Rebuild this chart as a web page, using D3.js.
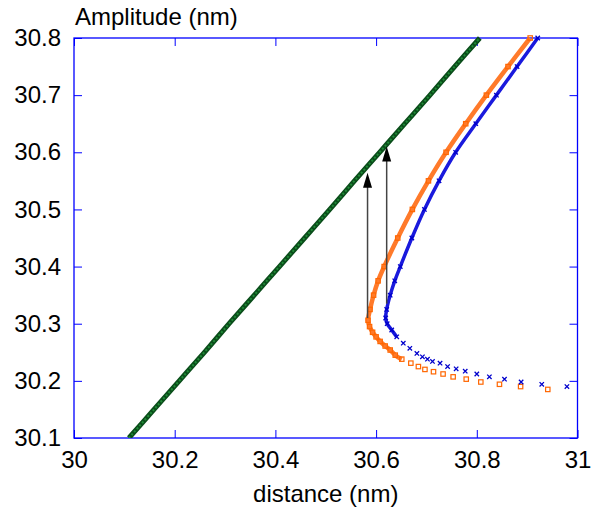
<!DOCTYPE html>
<html><head><meta charset="utf-8">
<script src="https://cdn.jsdelivr.net/npm/d3@7"></script>
<style>
html,body{margin:0;padding:0;background:#fff;}
text{font-family:"Liberation Sans",Arial,sans-serif;fill:#000;}
</style></head>
<body><svg id="c" width="592" height="512"></svg>
<script>
// ---- data ----
const xTicks = [30, 30.2, 30.4, 30.6, 30.8, 31];
const xTickLabels = ["30", "30.2", "30.4", "30.6", "30.8", "31"];
const yTicks = [30.1, 30.2, 30.3, 30.4, 30.5, 30.6, 30.7, 30.8];
const yTickLabels = ["30.1", "30.2", "30.3", "30.4", "30.5", "30.6", "30.7", "30.8"];

const greenX = [30.109,30.159,30.209,30.259,30.308,30.358,30.408,30.458,30.508,30.557,30.607,30.657,30.707,30.756,30.806];
const greenY = [30.10,30.15,30.20,30.25,30.30,30.35,30.40,30.45,30.50,30.55,30.60,30.65,30.70,30.75,30.80];

const orangeX = [30.906,30.862,30.819,30.778,30.739,30.704,30.672,30.643,30.616,30.604,30.595,30.588,30.584,
  30.587,30.593,30.600,30.608,30.618,30.628,30.638,30.651,30.669,30.684,30.697,30.714,30.733,30.753,30.779,30.808,30.845,30.887,30.941];
const orangeY = [30.800,30.750,30.700,30.650,30.600,30.550,30.500,30.450,30.400,30.375,30.350,30.325,30.306,
  30.295,30.285,30.277,30.269,30.261,30.254,30.245,30.238,30.231,30.225,30.220,30.216,30.212,30.207,30.203,30.198,30.194,30.190,30.185];

const blueX = [30.921,30.880,30.839,30.798,30.758,30.725,30.696,30.671,30.648,30.637,30.628,30.621,30.619,
  30.622,30.631,30.641,30.654,30.667,30.681,30.692,30.702,30.712,30.727,30.742,30.759,30.777,30.800,30.825,30.855,30.888,30.929,30.979];
const blueY = [30.800,30.750,30.700,30.650,30.600,30.550,30.500,30.450,30.400,30.375,30.350,30.325,30.310,
  30.300,30.289,30.277,30.266,30.257,30.248,30.242,30.238,30.234,30.231,30.225,30.221,30.217,30.212,30.207,30.203,30.198,30.194,30.190];

const arrowX = [30.583, 30.621];
const arrowYStart = [30.310, 30.335];
const arrowYEnd = [30.564, 30.610];

// ---- layout ----
const svg = d3.select("#c");
const L = 74, R = 577.5, T = 38, B = 438;
const x = d3.scaleLinear().domain([30, 31]).range([L, R]);
const y = d3.scaleLinear().domain([30.1, 30.8]).range([B, T]);
const axisColor = "#0000ff";
const fontSize = 24;

svg.append("defs").append("clipPath").attr("id","clip")
  .append("rect").attr("x",L).attr("y",T-3).attr("width",R-L).attr("height",B-T+3);

// axes
function styleAxis(g){
  g.select(".domain").remove();
  g.selectAll(".tick line").attr("stroke", axisColor).attr("stroke-width",1);
  g.selectAll(".tick text").style("font-size", fontSize+"px").attr("fill","#000");
}
svg.append("g").attr("transform",`translate(0,${B})`)
  .call(d3.axisBottom(x).tickValues(xTicks).tickFormat((d,i)=>xTickLabels[i]).tickSizeInner(-8).tickSizeOuter(0).tickPadding(13))
  .call(styleAxis);
svg.append("g").attr("transform",`translate(0,${T})`)
  .call(d3.axisTop(x).tickValues(xTicks).tickFormat("").tickSizeInner(-8).tickSizeOuter(0))
  .call(styleAxis);
svg.append("g").attr("transform",`translate(${L},0)`)
  .call(d3.axisLeft(y).tickValues(yTicks).tickFormat((d,i)=>yTickLabels[i]).tickSizeInner(-8).tickSizeOuter(0).tickPadding(13))
  .call(styleAxis);
svg.append("g").attr("transform",`translate(${R},0)`)
  .call(d3.axisRight(y).tickValues(yTicks).tickFormat("").tickSizeInner(-8).tickSizeOuter(0))
  .call(styleAxis);

svg.append("rect").attr("x",L).attr("y",T).attr("width",R-L).attr("height",B-T)
  .attr("fill","none").attr("stroke",axisColor).attr("stroke-width",1.3);

// labels
svg.append("text").attr("x",75).attr("y",25).style("font-size",fontSize+"px").text("Amplitude (nm)");
svg.append("text").attr("x",(L+R)/2).attr("y",502).attr("text-anchor","middle").style("font-size",fontSize+"px").text("distance (nm)");

const plot = svg.append("g").attr("clip-path","url(#clip)");
const line = d3.line().x(d=>x(d[0])).y(d=>y(d[1])).curve(d3.curveCatmullRom);

// green
const greenPts = greenX.map((v,i)=>[v, greenY[i]]);
plot.append("path").datum(greenPts).attr("d",line).attr("fill","none")
  .attr("stroke","#0a4d1a").attr("stroke-width",5);
plot.append("path").datum(greenPts).attr("d",line).attr("fill","none")
  .attr("stroke","#1f8a36").attr("stroke-width",2).attr("stroke-dasharray","2 2");

// dense part of a series: consecutive points within 9px
function densePart(pts){
  const out=[pts[0]];
  for(let i=1;i<pts.length;i++){
    const dx=x(pts[i][0])-x(pts[i-1][0]), dy=y(pts[i][1])-y(pts[i-1][1]);
    if(Math.hypot(dx,dy)<=9 || i<13) out.push(pts[i]); else break;
  }
  return out;
}

// orange
const orangePts = orangeX.map((v,i)=>[v, orangeY[i]]);
plot.append("path").datum(densePart(orangePts)).attr("d",line).attr("fill","none")
  .attr("stroke","#ff7a2a").attr("stroke-width",4.5);
plot.selectAll(".sq").data(orangePts).join("rect").attr("class","sq")
  .attr("x",d=>x(d[0])-2.2).attr("y",d=>y(d[1])-2.2).attr("width",4.4).attr("height",4.4)
  .attr("fill","none").attr("stroke","#ff6600").attr("stroke-width",1.2);

// blue
const bluePts = blueX.map((v,i)=>[v, blueY[i]]);
plot.append("path").datum(densePart(bluePts)).attr("d",line).attr("fill","none")
  .attr("stroke","#1a1add").attr("stroke-width",3.5);
const s=2.2;
plot.selectAll(".bx").data(bluePts).join("path").attr("class","bx")
  .attr("d",d=>{const cx=x(d[0]),cy=y(d[1]);return `M${cx-s},${cy-s}L${cx+s},${cy+s}M${cx-s},${cy+s}L${cx+s},${cy-s}`;})
  .attr("stroke","#0000cc").attr("stroke-width",1.3).attr("fill","none");

// arrows
arrowX.forEach((ax,i)=>{
  const px=x(ax), y0=y(arrowYStart[i]), y1=y(arrowYEnd[i]);
  svg.append("line").attr("x1",px).attr("x2",px).attr("y1",y0).attr("y2",y1+13)
    .attr("stroke","#444").attr("stroke-width",1.5);
  svg.append("path").attr("d",`M${px},${y1}L${px-4.5},${y1+15}L${px+4.5},${y1+15}Z`).attr("fill","#000");
});
</script></body></html>
